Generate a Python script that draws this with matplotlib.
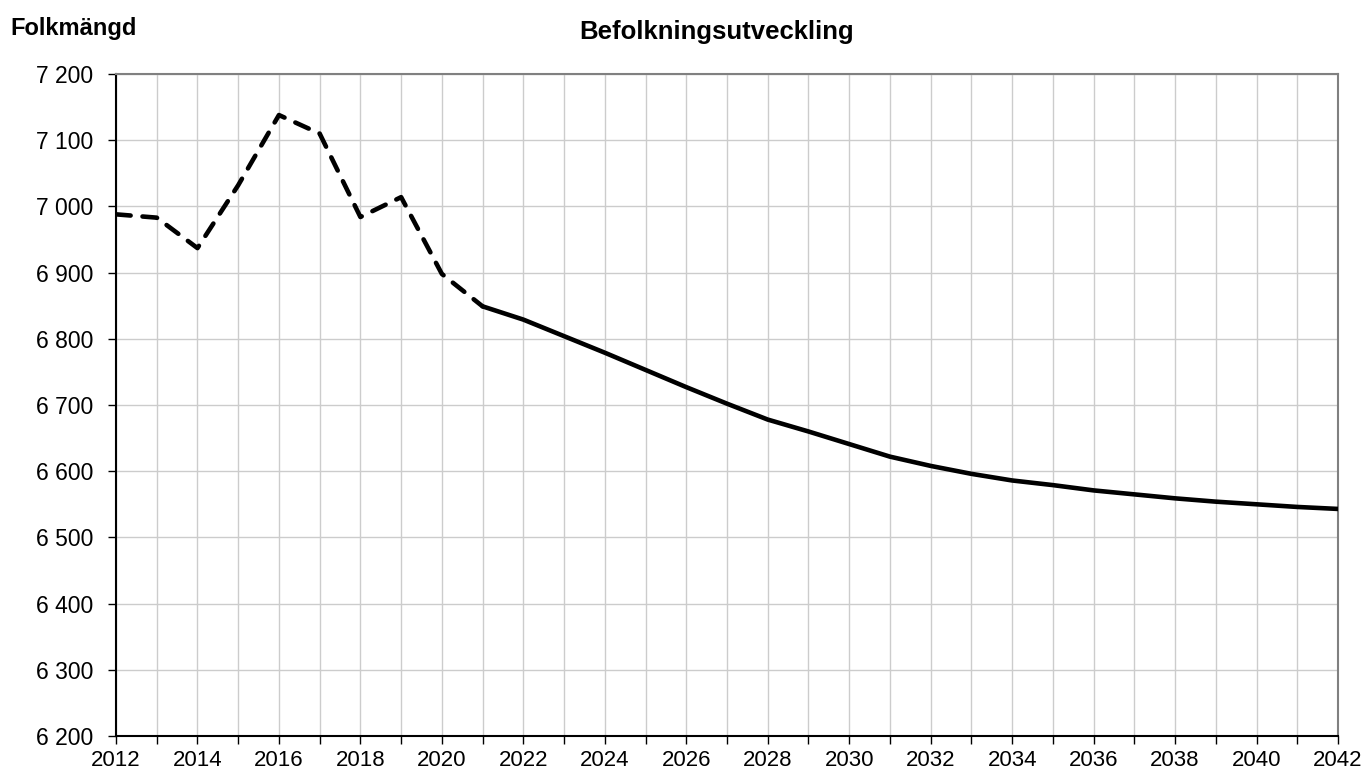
import matplotlib
matplotlib.use("Agg")
import matplotlib.pyplot as plt
from matplotlib.ticker import MultipleLocator, FuncFormatter

plt.rcParams['font.family'] = ['Liberation Sans', 'DejaVu Sans']

# observed population (dashed) and projection (solid)
years_hist = [2012, 2013, 2014, 2015, 2016, 2017, 2018, 2019, 2020, 2021]
pop_hist = [6988, 6983, 6937, 7032, 7138, 7110, 6984, 7014, 6898, 6849]

years_proj = [2021, 2022, 2023, 2024, 2025, 2026, 2027, 2028, 2029, 2030, 2031,
              2032, 2033, 2034, 2035, 2036, 2037, 2038, 2039, 2040, 2041, 2042]
pop_proj = [6849, 6829, 6804, 6779, 6753, 6727, 6702, 6678, 6660, 6641, 6622,
            6608, 6596, 6586, 6579, 6571, 6565, 6559, 6554, 6550, 6546, 6543]

fig = plt.figure(figsize=(13.67, 7.74), dpi=100)
ax = fig.add_axes([116/1367, 1 - 736/774, (1338-116)/1367, (736-74)/774])

ax.plot(years_hist, pop_hist, color='black', lw=3.3, linestyle=(0, (3.2, 2.6)),
        dash_capstyle='round', solid_joinstyle='round', zorder=3)
ax.plot(years_proj, pop_proj, color='black', lw=3.3, solid_capstyle='round',
        solid_joinstyle='round', zorder=3)

ax.set_xlim(2012, 2042)
ax.set_ylim(6200, 7200)
ax.xaxis.set_major_locator(MultipleLocator(2))
ax.xaxis.set_minor_locator(MultipleLocator(1))
ax.yaxis.set_major_locator(MultipleLocator(100))
ax.yaxis.set_major_formatter(FuncFormatter(lambda v, p: f"{int(v):,}".replace(",", " ")))

ax.grid(True, which='both', axis='x', color='#cccccc', lw=1)
ax.grid(True, which='major', axis='y', color='#cccccc', lw=1)
ax.set_axisbelow(True)

ax.tick_params(axis='both', which='both', direction='out', color='black', width=1)
ax.tick_params(axis='x', which='major', length=6, labelsize=16, pad=4)
ax.tick_params(axis='x', which='minor', length=6)
ax.tick_params(axis='y', length=6, labelsize=16.5, pad=10.5)

ax.spines['left'].set_color('black')
ax.spines['bottom'].set_color('black')
ax.spines['top'].set_color('#808080')
ax.spines['right'].set_color('#808080')
for s in ax.spines.values():
    s.set_linewidth(1.5)

fig.text(717/1367, 1 - 32/774, 'Befolkningsutveckling', ha='center', va='center',
         fontsize=18.5, fontweight='bold')
fig.text(10/1367, 1 - 28/774, 'Folkmängd', ha='left', va='center',
         fontsize=17, fontweight='bold')

fig.savefig('out.png', dpi=100)
